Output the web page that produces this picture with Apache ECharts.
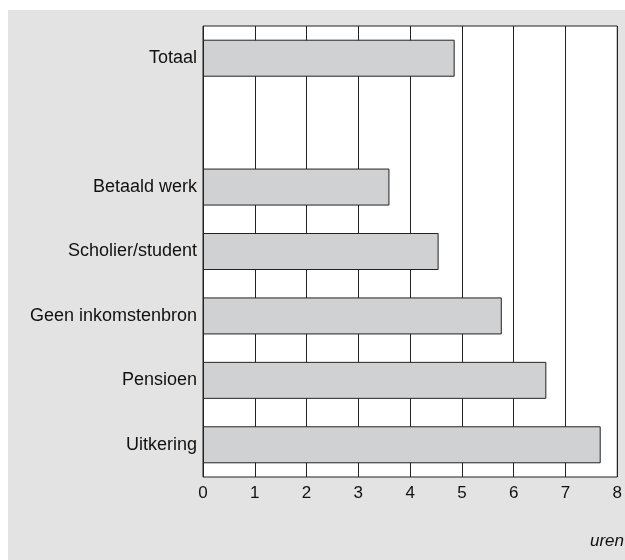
<!DOCTYPE html>
<html>
<head>
<meta charset="utf-8">
<script src="https://cdn.jsdelivr.net/npm/echarts@6/dist/echarts.min.js"></script>
<style>
  html, body { margin: 0; padding: 0; background: #fff; }
  #chart { width: 625px; height: 560px; }
</style>
</head>
<body>
<div id="chart"></div>
<script>
// categories (empty slot separates the total from the groups)
const categories = ['Totaal', '', 'Betaald werk', 'Scholier/student', 'Geen inkomstenbron', 'Pensioen', 'Uitkering']
const hours = [4.86, '-', 3.6, 4.55, 5.77, 6.63, 7.68]
const xTicks = [0, 1, 2, 3, 4, 5, 6, 7, 8]
const unitLabel = 'uren'

const ch = echarts.init(document.getElementById('chart'))
const font = 'Liberation Sans, Arial, Helvetica, sans-serif'

let option = {
  animation: false,
  graphic: [
    {
      type: 'rect',
      left: 8,
      top: 10,
      shape: { width: 617, height: 550 },
      style: { fill: '#e2e3e2' },
      z: -10
    },
    {
      type: 'text',
      right: 1,
      top: 533,
      style: {
        text: unitLabel,
        fill: '#111',
        font: 'italic 17px ' + font
      }
    }
  ],
  grid: {
    left: 203,
    right: 5,
    top: 26,
    bottom: 83,
    show: true,
    backgroundColor: '#fff',
    borderColor: '#222',
    borderWidth: 1
  },
  xAxis: {
    type: 'value',
    min: xTicks[0],
    max: xTicks[xTicks.length - 1],
    interval: 1,
    axisLine: { show: false },
    axisTick: { show: false },
    splitLine: { show: true, lineStyle: { color: '#222', width: 1 } },
    axisLabel: {
      color: '#111',
      fontSize: 17,
      fontFamily: font,
      margin: 8,
      formatter: v => xTicks.includes(v) ? String(v) : ''
    }
  },
  yAxis: {
    type: 'category',
    inverse: true,
    data: categories,
    axisLine: { show: false },
    axisTick: { show: false },
    splitLine: { show: false },
    axisLabel: {
      color: '#111',
      fontSize: 18,
      fontFamily: font,
      margin: 6
    }
  },
  series: [
    {
      type: 'bar',
      data: hours,
      barWidth: 37,
      itemStyle: {
        color: '#d0d1d3',
        borderColor: '#222',
        borderWidth: 1
      }
    }
  ]
}
ch.setOption(option)
</script>
</body>
</html>
